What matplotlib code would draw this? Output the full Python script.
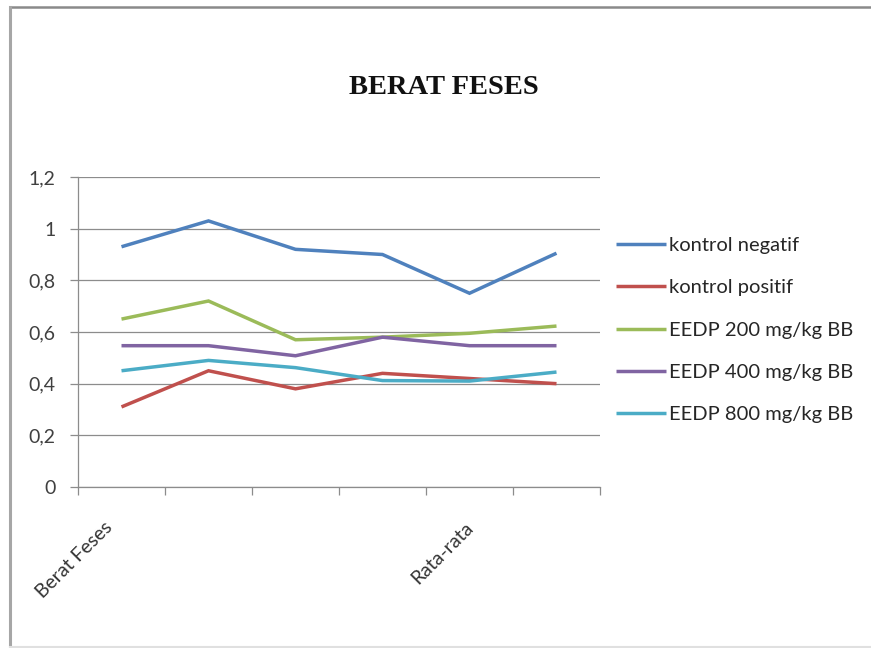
import matplotlib
matplotlib.use("Agg")
import matplotlib.pyplot as plt
from matplotlib.lines import Line2D
from matplotlib.ticker import FixedLocator, FuncFormatter
import matplotlib.transforms as mtransforms

# Data
categories = ["Berat Feses", "", "", "", "Rata-rata", ""]
series_names = ["kontrol negatif", "kontrol positif", "EEDP 200 mg/kg BB",
                "EEDP 400 mg/kg BB", "EEDP 800 mg/kg BB"]
kontrol_negatif = [0.93, 1.03, 0.92, 0.90, 0.75, 0.905]
kontrol_positif = [0.31, 0.45, 0.38, 0.44, 0.42, 0.40]
eedp_200 = [0.65, 0.72, 0.57, 0.58, 0.595, 0.623]
eedp_400 = [0.547, 0.547, 0.508, 0.58, 0.547, 0.547]
eedp_800 = [0.45, 0.49, 0.462, 0.412, 0.41, 0.445]
y_ticks = [0, 0.2, 0.4, 0.6, 0.8, 1.0, 1.2]

colors = ["#4F81BD", "#C0504D", "#9BBB59", "#8064A2", "#4BACC6"]
values = [kontrol_negatif, kontrol_positif, eedp_200, eedp_400, eedp_800]

W, H = 871, 648
fig = plt.figure(figsize=(W / 100, H / 100), dpi=100)
fig.patch.set_facecolor("white")

# outer chart frame
fig.add_artist(Line2D([10 / W, 1], [1 - 7 / H, 1 - 7 / H], transform=fig.transFigure,
                      color="#8a8a8a", lw=1.8))
fig.add_artist(Line2D([10 / W, 10 / W], [1 - 7 / H, 1 / H], transform=fig.transFigure,
                      color="#a6a6a6", lw=2.2))
fig.add_artist(Line2D([10 / W, 1], [1 / H, 1 / H], transform=fig.transFigure,
                      color="#e0e0e0", lw=1.5))

ax = fig.add_axes([78 / W, 1 - 487 / H, (600 - 78) / W, (487 - 177) / H])
x = list(range(len(categories)))
for name, vals, c in zip(series_names, values, colors):
    ax.plot(x, vals, color=c, lw=2.5, label=name, solid_capstyle="butt",
            solid_joinstyle="miter")

ax.set_xlim(-0.5, len(categories) - 0.5)
ax.set_ylim(0, 1.2)
ax.yaxis.set_major_locator(FixedLocator(y_ticks))
ax.yaxis.set_major_formatter(FuncFormatter(lambda v, p: f"{v:g}".replace(".", ",")))
ax.grid(axis="y", color="#8c8c8c", lw=0.9)
ax.set_axisbelow(True)

for s in ["top", "right"]:
    ax.spines[s].set_visible(False)
for s in ["left", "bottom"]:
    ax.spines[s].set_color("#8c8c8c")
    ax.spines[s].set_linewidth(0.9)

# category boundary ticks on x, labels at category centers
ax.set_xticks([i - 0.5 for i in range(len(categories) + 1)], minor=False)
ax.set_xticklabels([])
ax.tick_params(axis="x", which="major", length=6, color="#8c8c8c", width=0.9)
ax.set_xticks(x, minor=True)
ax.set_xticklabels(categories, minor=True, rotation=45, ha="right", va="center",
                   rotation_mode="anchor", fontsize=14, family="Lato", color="#333333")
ax.tick_params(axis="x", which="minor", length=0, pad=27)
shifts = [-12, 0, 0, 0, 1, 0]
for lbl, dx in zip(ax.xaxis.get_minorticklabels(), shifts):
    off = mtransforms.ScaledTranslation(dx / 100, 0, fig.dpi_scale_trans)
    lbl.set_transform(lbl.get_transform() + off)

ax.tick_params(axis="y", length=6, color="#8c8c8c", width=0.9, pad=10,
               labelsize=14, labelcolor="#404040")
for lbl in ax.get_yticklabels():
    lbl.set_family("Lato")

leg = fig.legend(loc="upper left", bbox_to_anchor=(598 / W, 1 - 219 / H),
                 frameon=False, prop={"family": "Lato", "size": 14.5},
                 handlelength=2.5, handletextpad=0.15, labelspacing=1.25,
                 labelcolor="#262626")

fig.text(444 / W, 1 - 88 / H, "BERAT FESES", ha="center", va="center",
         family="Liberation Serif", weight="bold", fontsize=20.5, color="#111111")

fig.savefig("out.png", dpi=100, facecolor="white")
